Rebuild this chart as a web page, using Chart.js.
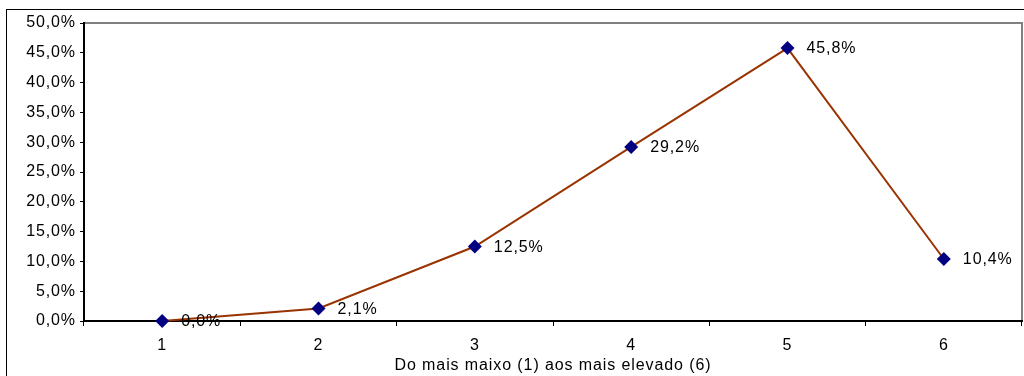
<!DOCTYPE html>
<html>
<head>
<meta charset="utf-8">
<script src="https://cdn.jsdelivr.net/npm/chart.js@4/dist/chart.umd.min.js"></script>
<style>
  html, body { margin: 0; padding: 0; background: #fff; overflow: hidden; }
  canvas { display: block; }
</style>
</head>
<body>
<canvas id="grafico" width="1024" height="376"></canvas>
<script>
// Categorias e valores (%)
const categorias = ['1', '2', '3', '4', '5', '6'];
const percentagens = [0.0, 2.1, 12.5, 29.2, 45.8, 10.4];
const tituloX = 'Do mais maixo (1) aos mais elevado (6)';

const fonte = "'Liberation Sans', Arial, sans-serif";

// formato português: 12,5%
function fmt(v) {
    return v.toFixed(1).replace('.', ',') + '%';
}

// Moldura exterior e contorno cinzento da área do gráfico
const molduras = {
    id: 'molduras',
    beforeDraw(chart) {
        const ctx = chart.ctx;
        const a = chart.chartArea;
        ctx.letterSpacing = '0.9px';
        ctx.save();
        ctx.strokeStyle = '#000';
        ctx.lineWidth = 1;
        ctx.strokeRect(6.5, 9.5, 1100, 500);
        ctx.strokeStyle = '#808080';
        ctx.lineWidth = 2;
        ctx.beginPath();
        ctx.moveTo(a.left, a.top);
        ctx.lineTo(a.right, a.top);
        ctx.lineTo(a.right, a.bottom);
        ctx.stroke();
        ctx.restore();
    }
};

// Rótulos dos valores à direita de cada ponto
const rotulos = {
    id: 'rotulos',
    afterDatasetsDraw(chart) {
        const ctx = chart.ctx;
        const meta = chart.getDatasetMeta(0);
        ctx.save();
        ctx.font = '16px ' + fonte;
        ctx.fillStyle = '#000';
        ctx.textAlign = 'left';
        ctx.textBaseline = 'middle';
        meta.data.forEach((pt, i) => {
            ctx.fillText(fmt(percentagens[i]), pt.x + 19, pt.y + 1);
        });
        ctx.restore();
    }
};

new Chart(document.getElementById('grafico'), {
    type: 'line',
    data: {
        labels: categorias,
        datasets: [{
            data: percentagens,
            borderColor: '#993300',
            borderWidth: 2,
            tension: 0,
            pointStyle: 'rectRot',
            pointRadius: 7,
            pointHoverRadius: 7,
            pointBackgroundColor: '#000080',
            pointBorderColor: '#000080',
            pointBorderWidth: 0,
            clip: false
        }]
    },
    options: {
        responsive: false,
        animation: false,
        events: [],
        layout: {
            autoPadding: false,
            padding: { left: 0, right: 2, top: 23, bottom: 0 }
        },
        plugins: {
            legend: { display: false },
            tooltip: { enabled: false }
        },
        scales: {
            x: {
                offset: true,
                afterFit(s) {
                    s.height = 55;
                    s.paddingLeft = 0;
                    s.paddingRight = 0;
                },
                grid: {
                    offset: true,
                    drawOnChartArea: false,
                    drawTicks: true,
                    tickLength: 5,
                    color: '#000'
                },
                border: { color: '#000', width: 2 },
                ticks: {
                    color: '#000',
                    padding: 10,
                    maxRotation: 0,
                    font: { family: fonte, size: 16 }
                },
                title: {
                    display: true,
                    text: tituloX,
                    color: '#000',
                    padding: { top: 0, bottom: 1 },
                    font: { family: fonte, size: 16 }
                }
            },
            y: {
                min: 0,
                max: 50,
                afterFit(s) { s.width = 84; },
                grid: {
                    drawOnChartArea: false,
                    drawTicks: true,
                    tickLength: 4,
                    color: '#000'
                },
                border: { color: '#000', width: 2 },
                ticks: {
                    stepSize: 5,
                    color: '#000',
                    padding: 4,
                    font: { family: fonte, size: 16 },
                    callback: v => fmt(v)
                }
            }
        }
    },
    plugins: [molduras, rotulos]
});
</script>
</body>
</html>
